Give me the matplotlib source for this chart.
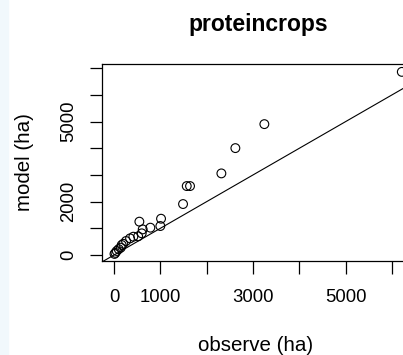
import numpy as np
import matplotlib
matplotlib.use('Agg')
import matplotlib.pyplot as plt
from matplotlib.patches import Rectangle

plt.rcParams['font.family'] = ['Liberation Sans', 'DejaVu Sans']

# observed vs modelled area (ha)
observe = [6214, 3246, 2620, 2318, 1570, 1641, 1490, 1015, 1000, 784, 547, 619,
           598, 520, 417, 346, 259, 200, 166, 145, 100, 58, 30, 10]
model = [6865, 4906, 4007, 3059, 2584, 2584, 1910, 1360, 1086, 1024, 1250, 960,
         812, 700, 686, 624, 524, 420, 375, 275, 220, 150, 80, 40]

xticks = [0, 1000, 2000, 3000, 4000, 5000, 6000]
xticklabels = ['0', '1000', '', '3000', '', '5000', '']
yticks = [0, 1000, 2000, 3000, 4000, 5000, 6000, 7000]
yticklabels = ['0', '', '2000', '', '', '5000', '', '']

fig = plt.figure(figsize=(4.03, 3.55), dpi=100)
fig.patches.append(Rectangle((0, 0), 8 / 403, 1, transform=fig.transFigure,
                             color='#f1f8fc', zorder=-1))
ax = fig.add_axes([0.2524, 0.2648, 0.7776, 0.5549])

ax.scatter(observe, model, s=40, facecolors='none', edgecolors='black',
           linewidths=0.8, zorder=3)
ax.axline((0, 0), slope=1, color='black', lw=0.8)

ax.set_xlim(-266, 6501)
ax.set_ylim(-225, 7160)

ax.set_xticks(xticks)
ax.set_xticklabels(xticklabels)
ax.set_yticks(yticks)
ax.set_yticklabels(yticklabels, rotation=90, va='center')
ax.tick_params(direction='out', length=9, width=0.9, labelsize=13.3)
ax.tick_params(axis='x', pad=11)
ax.tick_params(axis='y', pad=8.5)
for s in ax.spines.values():
    s.set_linewidth(0.9)

ax.set_title('proteincrops', fontsize=16.5, fontweight='bold', pad=24)
ax.set_xlabel('observe (ha)', fontsize=14.8)
ax.set_ylabel('model (ha)', fontsize=14.8)
ax.xaxis.set_label_coords(0.49, -0.43)
ax.xaxis.label.set_va('center')
ax.yaxis.set_label_coords(-0.245, 0.5)
ax.yaxis.label.set_va('center')

fig.savefig('out.png', dpi=100)
